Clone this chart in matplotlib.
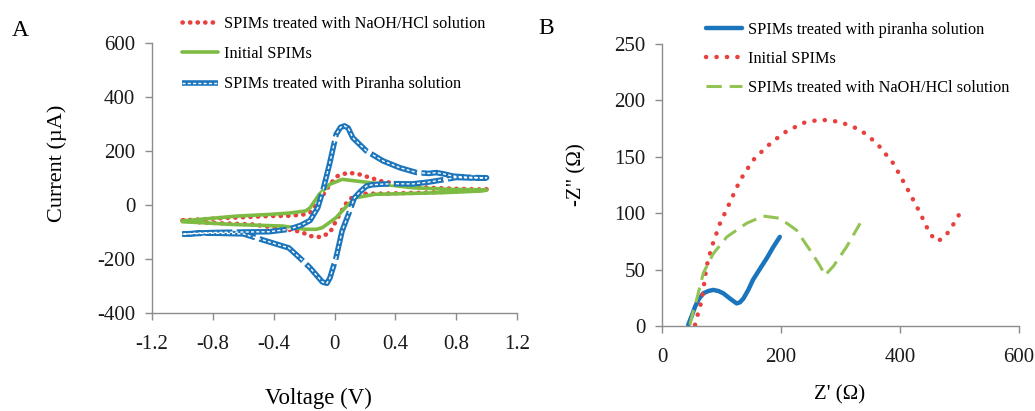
import matplotlib
matplotlib.use("Agg")
import matplotlib.pyplot as plt
from matplotlib.legend_handler import HandlerTuple

plt.rcParams['font.family'] = ['Liberation Serif', 'DejaVu Serif']

# ---- Panel A: cyclic voltammograms (forward scan, then reverse scan) ----
blue_v = [-1.0, -0.9, -0.8, -0.6, -0.43, -0.3, -0.22, -0.16, -0.11, -0.077, -0.033, 0.011, 0.04, 0.066,
          0.09, 0.12, 0.21, 0.32, 0.43, 0.54, 0.62, 0.67, 0.72, 0.78, 0.87, 0.97, 1.0,
          0.9, 0.8, 0.73, 0.62, 0.51, 0.4, 0.3, 0.25, 0.21, 0.17, 0.13, 0.10, 0.05, 0.01, -0.03, -0.05,
          -0.08, -0.16, -0.23, -0.30, -0.45, -0.6, -0.82, -1.0]
blue_i = [-108, -104, -102, -100, -99, -90, -75, -57, -10, 52, 151, 262, 288, 293,
          285, 249, 200, 163, 138, 120, 117, 120, 115, 107, 103, 101, 101,
          100, 102, 95, 85, 78, 79, 77, 75, 70, 50, 26, -22, -96, -196, -270, -290,
          -285, -233, -195, -159, -133, -107, -104, -108]

red_v = [-1.0, -0.75, -0.43, -0.30, -0.21, -0.16, -0.10, -0.03, 0.02, 0.09, 0.16, 0.27, 0.30, 0.45, 0.62,
         0.8, 0.95, 1.0,
         0.95, 0.62, 0.30, 0.21, 0.16, 0.11, 0.07, 0.01, -0.03, -0.09, -0.16, -0.21, -0.25, -0.32,
         -0.54, -0.87, -1.0]
red_i = [-57, -49, -41, -40, -36, -28, 15, 77, 107, 120, 114, 95, 89, 75, 64,
         60, 58, 58,
         54, 46, 42, 42, 38, 25, 2, -59, -102, -119, -115, -102, -96, -90,
         -72, -65, -57]

green_v = [-1.0, -0.64, -0.43, -0.30, -0.19, -0.16, -0.10, -0.03, 0.05, 0.14, 0.32, 0.51, 0.75, 0.97, 1.0,
           0.97, 0.73, 0.30, 0.27, 0.14, 0.08, 0.01, -0.08, -0.12, -0.19, -0.34, -0.67, -0.89, -1.0]
green_i = [-59, -41, -35, -30, -22, -10, 40, 77, 95, 89, 77, 64, 58, 56, 55,
           52, 46, 40, 40, 27, -4, -47, -84, -90, -90, -78, -72, -65, -62]

# ---- Panel B: Nyquist plots ----
pir_zr = [44, 50, 55.5, 62, 69.5, 78, 86, 95, 103, 115, 125.5, 131, 137, 145, 153, 165, 176, 187, 198]
pir_zi = [1, 9, 17, 24, 29, 31, 32, 31, 29, 24, 20, 21, 24.5, 32, 41, 51, 60, 70, 79]

ini_zr = [55.5, 61, 67, 75, 83.5, 97.5, 111, 131, 153, 176, 204, 237, 266, 299, 333, 361, 389, 411, 434,
          450, 462, 473, 484, 504]
ini_zi = [1, 12, 23, 53, 70, 91, 106, 129, 147, 159, 171, 180, 183, 181, 174, 162, 144, 123, 100,
          82, 75, 78, 85, 103]

naoh_zr = [47, 52, 58, 69.5, 86, 109, 142, 170, 198, 226, 249, 266, 274, 288, 310, 333]
naoh_zi = [1, 12, 23, 47, 64, 79, 91, 97.5, 95.5, 85, 67, 53, 45, 53, 70, 91]

cv_xticks = [-1.2, -0.8, -0.4, 0, 0.4, 0.8, 1.2]
cv_xlabels = ['-1.2', '-0.8', '-0.4', '0', '0.4', '0.8', '1.2']
cv_yticks = [-400, -200, 0, 200, 400, 600]
cv_ylabels = ['-400', '-200', '0', '200', '400', '600']
eis_xticks = [0, 200, 400, 600]
eis_yticks = [0, 50, 100, 150, 200, 250]

RED = '#e8403d'
GREEN = '#7dbb42'
BLUE = '#1b75bc'
LGREEN = '#92c353'
SPINE = '#8c8c8c'

fig = plt.figure(figsize=(10.35, 4.11), dpi=100)
axA = fig.add_axes([152 / 1035, 1 - 313 / 411, 365 / 1035, 270 / 411])
axB = fig.add_axes([662 / 1035, 1 - 326 / 411, 357 / 1035, 282 / 411])


def style_axes(ax):
    for s in ['top', 'right']:
        ax.spines[s].set_visible(False)
    for s in ['left', 'bottom']:
        ax.spines[s].set_color(SPINE)
        ax.spines[s].set_linewidth(1.0)
    ax.tick_params(direction='out', length=5, width=1, color=SPINE, labelsize=15,
                   labelcolor='#1a1a1a')
    ax.tick_params(axis='x', pad=11)
    ax.tick_params(axis='y', pad=7)


# Panel A
l_red, = axA.plot(red_v, red_i, color=RED, lw=3.3, linestyle=(0, (0.05, 1.6)),
                  dash_capstyle='round')
l_green, = axA.plot(green_v, green_i, color=GREEN, lw=2.6, solid_capstyle='round')
l_blue, = axA.plot(blue_v, blue_i, color=BLUE, lw=4.0, linestyle=(0, (9, 0.8)))
l_white, = axA.plot(blue_v, blue_i, color='white', lw=1.0, linestyle=(0, (2.2, 1.6)))
axA.set_xlim(-1.2, 1.2)
axA.set_ylim(-400, 600)
axA.set_xticks(cv_xticks)
axA.set_xticklabels(cv_xlabels)
axA.set_yticks(cv_yticks)
axA.set_yticklabels(cv_ylabels)
style_axes(axA)

legA = fig.legend([l_red, l_green, (l_blue, l_white)],
                  ['SPIMs treated with NaOH/HCl solution', 'Initial SPIMs',
                   'SPIMs treated with Piranha solution'],
                  handler_map={tuple: HandlerTuple(ndivide=1)},
                  loc='upper left', bbox_to_anchor=(182 / 1035, 1 - 16 / 411),
                  frameon=False, fontsize=11.7, handlelength=2.2, handletextpad=0.4,
                  labelspacing=0.87, borderpad=0, borderaxespad=0)

# Panel B
b_blue, = axB.plot(pir_zr, pir_zi, color=BLUE, lw=3.2, solid_capstyle='round')
b_red, = axB.plot(ini_zr, ini_zi, color=RED, lw=3.2, linestyle=(0, (0.05, 2.3)),
                  dash_capstyle='round')
b_green, = axB.plot(naoh_zr, naoh_zi, color=LGREEN, lw=2.2, linestyle=(0, (5, 2.6)))
axB.set_xlim(0, 600)
axB.set_ylim(0, 250)
axB.set_xticks(eis_xticks)
axB.set_yticks(eis_yticks)
style_axes(axB)

legB = fig.legend([b_blue, b_red, b_green],
                  ['SPIMs treated with piranha solution', 'Initial SPIMs',
                   'SPIMs treated with NaOH/HCl solution'],
                  loc='upper left', bbox_to_anchor=(706 / 1035, 1 - 22 / 411),
                  frameon=False, fontsize=11.7, handlelength=2.2, handletextpad=0.4,
                  labelspacing=0.8, borderpad=0, borderaxespad=0)

# axis titles and panel letters
fig.text(57 / 1035, 1 - 163 / 411, 'Current (\u00b5A)', rotation=90, ha='center', va='center',
         fontsize=16)
fig.text(318 / 1035, 1 - 398 / 411, 'Voltage (V)', ha='center', va='center', fontsize=16.5)
fig.text(577 / 1035, 1 - 175 / 411, '-Z" (\u03a9)', rotation=90, ha='center', va='center',
         fontsize=15)
fig.text(840 / 1035, 1 - 395 / 411, "Z' (\u03a9)", ha='center', va='center', fontsize=15)
fig.text(20 / 1035, 1 - 30 / 411, 'A', ha='center', va='center', fontsize=17)
fig.text(546 / 1035, 1 - 29 / 411, 'B', ha='center', va='center', fontsize=17)

fig.savefig('out.png', dpi=100)
